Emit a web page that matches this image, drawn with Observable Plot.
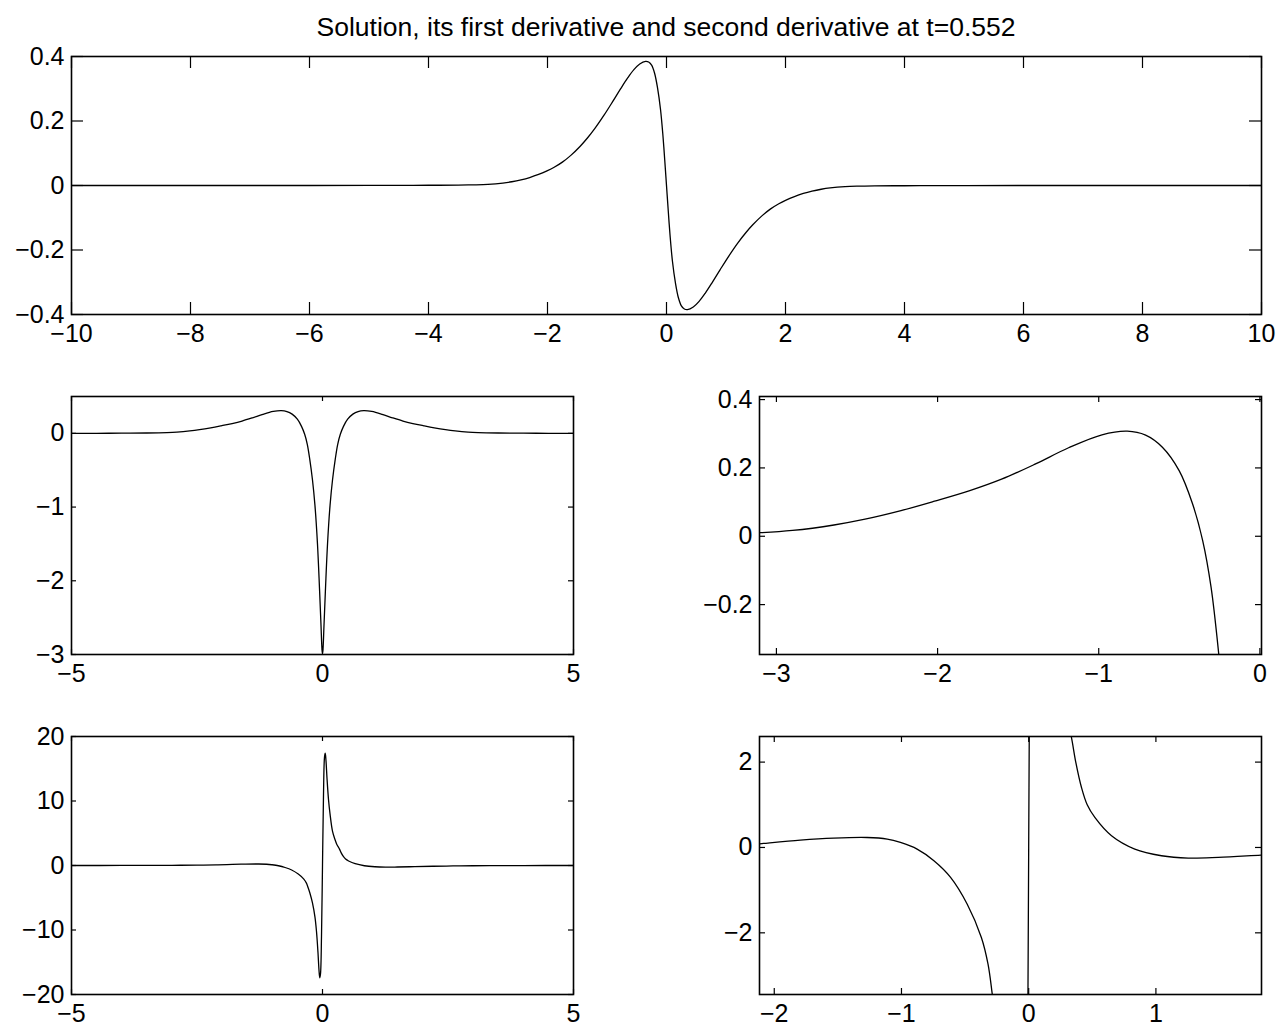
<!DOCTYPE html>
<html>
<head>
<meta charset="utf-8">
<script src="https://cdn.jsdelivr.net/npm/d3@7"></script>
<script src="https://cdn.jsdelivr.net/npm/@observablehq/plot@0.6"></script>
<style>
  html, body { margin: 0; padding: 0; background: #fff; }
  #fig { position: relative; width: 1283px; height: 1032px; background: #fff; overflow: hidden;
         font-family: "Liberation Sans", Arial, Helvetica, sans-serif; }
  #title { position: absolute; left: 166px; width: 1000px; top: 14px; text-align: center;
           font-size: 26.5px; line-height: 26px; color: #000; white-space: nowrap; }
  #fig svg { max-width: none !important; }
</style>
</head>
<body>
<div id="fig">
  <div id="title">Solution, its first derivative and second derivative at t=0.552</div>
</div>
<script>
// ---- Solution u(x) (top panel) ----
const uX = [-10,-8,-6,-5,-4.5,-4,-3.5,-3.25,-3,-2.75,-2.6,-2.445,-2.3,-2.15,-2.0,-1.888,-1.75,-1.608,-1.45,-1.329,-1.2,-1.05,-0.9,-0.77,-0.65,-0.548,-0.45,-0.352,-0.3,-0.25,-0.2,-0.15,-0.1,-0.06,-0.03,0,
            0.03,0.06,0.1,0.15,0.2,0.25,0.3,0.352,0.45,0.548,0.65,0.77,0.9,1.05,1.2,1.329,1.45,1.608,1.75,1.888,2.0,2.15,2.3,2.445,2.6,2.75,3,3.25,3.5,4,4.5,5,6,8,10];
const uY = [0,0,0,0.0001,0.0003,0.0007,0.0012,0.002,0.0035,0.0075,0.0116,0.0175,0.0247,0.0342,0.0459,0.0565,0.0724,0.0934,0.1218,0.1472,0.1778,0.218,0.2615,0.3002,0.3342,0.3592,0.3768,0.385,0.383,0.373,0.348,0.302,0.235,0.155,0.08,0,
            -0.08,-0.155,-0.235,-0.302,-0.348,-0.373,-0.383,-0.385,-0.3768,-0.3592,-0.3342,-0.3002,-0.2615,-0.218,-0.1778,-0.1472,-0.1218,-0.0934,-0.0724,-0.0565,-0.0459,-0.0342,-0.0247,-0.0175,-0.0116,-0.0075,-0.0035,-0.002,-0.0012,-0.0007,-0.0003,-0.0001,0,0,0];

// ---- First derivative u'(x) (middle panels) ----
const duX = [-5,-4.5,-4,-3.5,-3.1,-2.9,-2.643,-2.45,-2.227,-2.019,-1.8,-1.603,-1.395,-1.187,-0.98,-0.823,-0.709,-0.605,-0.501,-0.418,-0.355,-0.303,-0.255,-0.2,-0.15,-0.1,-0.06,-0.03,-0.01,0,
             0.01,0.03,0.06,0.1,0.15,0.2,0.255,0.303,0.355,0.418,0.501,0.605,0.709,0.823,0.98,1.187,1.395,1.603,1.8,2.019,2.227,2.45,2.643,2.9,3.1,3.5,4,4.5,5];
const duY = [0.0004,0.001,0.0022,0.005,0.0105,0.017,0.033,0.05,0.075,0.1025,0.1335,0.167,0.211,0.259,0.297,0.3075,0.296,0.2606,0.192,0.095,-0.0126,-0.149,-0.346,-0.63,-0.98,-1.5,-2.1,-2.6,-2.93,-2.99,
             -2.93,-2.6,-2.1,-1.5,-0.98,-0.63,-0.346,-0.149,-0.0126,0.095,0.192,0.2606,0.296,0.3075,0.297,0.259,0.211,0.167,0.1335,0.1025,0.075,0.05,0.033,0.017,0.0105,0.005,0.0022,0.001,0.0004];

// ---- Second derivative u''(x) (bottom panels) ----
const ddX = [-5,-4,-3.5,-3,-2.5,-2.116,-2.084,-1.795,-1.533,-1.27,-1.112,-1.008,-0.877,-0.745,-0.614,-0.483,-0.372,-0.32,-0.286,-0.25,-0.2,-0.15,-0.12,-0.09,-0.07,-0.055,-0.04,-0.02,0,
             0.02,0.04,0.055,0.07,0.09,0.12,0.15,0.2,0.25,0.286,0.336,0.37,0.415,0.46,0.52,0.651,0.834,1.044,1.254,1.49,1.836,2.2,2.6,3,3.5,4,5];
const ddY = [0,0.005,0.012,0.03,0.06,0.085,0.094,0.173,0.22,0.234,0.197,0.117,-0.038,-0.31,-0.70,-1.33,-2.11,-2.73,-3.445,-4.3,-5.8,-8.0,-10.2,-13.5,-16.2,-17.4,-16.8,-11,0,
             11,16.8,17.4,16.2,13.5,10.2,8.0,5.3,4.0,3.25,2.58,2.0,1.405,1.0,0.703,0.274,-0.038,-0.194,-0.25,-0.234,-0.178,-0.12,-0.07,-0.04,-0.02,-0.008,0];

// ---- Axis ticks ----
const topXTicks = [-10,-8,-6,-4,-2,0,2,4,6,8,10];
const topYTicks = [-0.4,-0.2,0,0.2,0.4];
const midLXTicks = [-5,0,5];
const midLYTicks = [-3,-2,-1,0];
const midRXTicks = [-3,-2,-1,0];
const midRYTicks = [-0.2,0,0.2,0.4];
const botLXTicks = [-5,0,5];
const botLYTicks = [-20,-10,0,10,20];
const botRXTicks = [-2,-1,0,1];
const botRYTicks = [-2,0,2];

const fig = document.getElementById("fig");
const mL = 90, mR = 30, mT = 14, mB = 46;
const fmt = d3.format("~g");

function panel({xs, ys, xDomain, yDomain, xTicks, yTicks, frame, tick}) {
  const [x0, y0, x1, y1] = frame;
  const w = x1 - x0, h = y1 - y0;
  const data = xs.map((x, i) => ({x, y: ys[i]}));
  const svg = Plot.plot({
    width: w + mL + mR,
    height: h + mT + mB,
    marginLeft: mL, marginRight: mR, marginTop: mT, marginBottom: mB,
    style: {fontFamily: '"Liberation Sans", Arial, Helvetica, sans-serif', fontSize: "25px",
            background: "transparent", color: "#000", overflow: "visible", maxWidth: "none"},
    x: {domain: xDomain, label: null},
    y: {domain: yDomain, label: null},
    marks: [
      Plot.line(data, {x: "x", y: "y", stroke: "#000", strokeWidth: 1.3, curve: "catmull-rom", clip: true}),
      Plot.tickX(xTicks, {x: d => d, stroke: "#000", strokeWidth: 1.2, insetTop: h - tick}),
      Plot.tickX(xTicks, {x: d => d, stroke: "#000", strokeWidth: 1.2, insetBottom: h - tick}),
      Plot.tickY(yTicks, {y: d => d, stroke: "#000", strokeWidth: 1.2, insetRight: w - tick}),
      Plot.tickY(yTicks, {y: d => d, stroke: "#000", strokeWidth: 1.2, insetLeft: w - tick}),
      Plot.axisX({ticks: xTicks, tickSize: 0, tickPadding: 10, tickFormat: fmt, label: null}),
      Plot.axisY({ticks: yTicks, tickSize: 0, tickPadding: 7, tickFormat: fmt, label: null}),
      Plot.frame({stroke: "#000", strokeWidth: 1.6})
    ]
  });
  svg.style.position = "absolute";
  svg.style.maxWidth = "none";
  svg.style.left = (x0 - mL) + "px";
  svg.style.top = (y0 - mT) + "px";
  fig.appendChild(svg);
}

panel({xs: uX, ys: uY, xDomain: [-10, 10], yDomain: [-0.4, 0.4], xTicks: topXTicks, yTicks: topYTicks,
       frame: [71, 56, 1261, 314], tick: 12});
panel({xs: duX, ys: duY, xDomain: [-5, 5], yDomain: [-3, 0.5], xTicks: midLXTicks, yTicks: midLYTicks,
       frame: [71, 396, 573, 654], tick: 5});
panel({xs: duX, ys: duY, xDomain: [-3.105, 0.01], yDomain: [-0.346, 0.409], xTicks: midRXTicks, yTicks: midRYTicks,
       frame: [759, 396, 1261, 654], tick: 6});
panel({xs: ddX, ys: ddY, xDomain: [-5, 5], yDomain: [-20, 20], xTicks: botLXTicks, yTicks: botLYTicks,
       frame: [71, 736, 573, 994], tick: 5});
panel({xs: ddX, ys: ddY, xDomain: [-2.116, 1.83], yDomain: [-3.445, 2.6], xTicks: botRXTicks, yTicks: botRYTicks,
       frame: [759, 736, 1261, 994], tick: 6});
</script>
</body>
</html>
